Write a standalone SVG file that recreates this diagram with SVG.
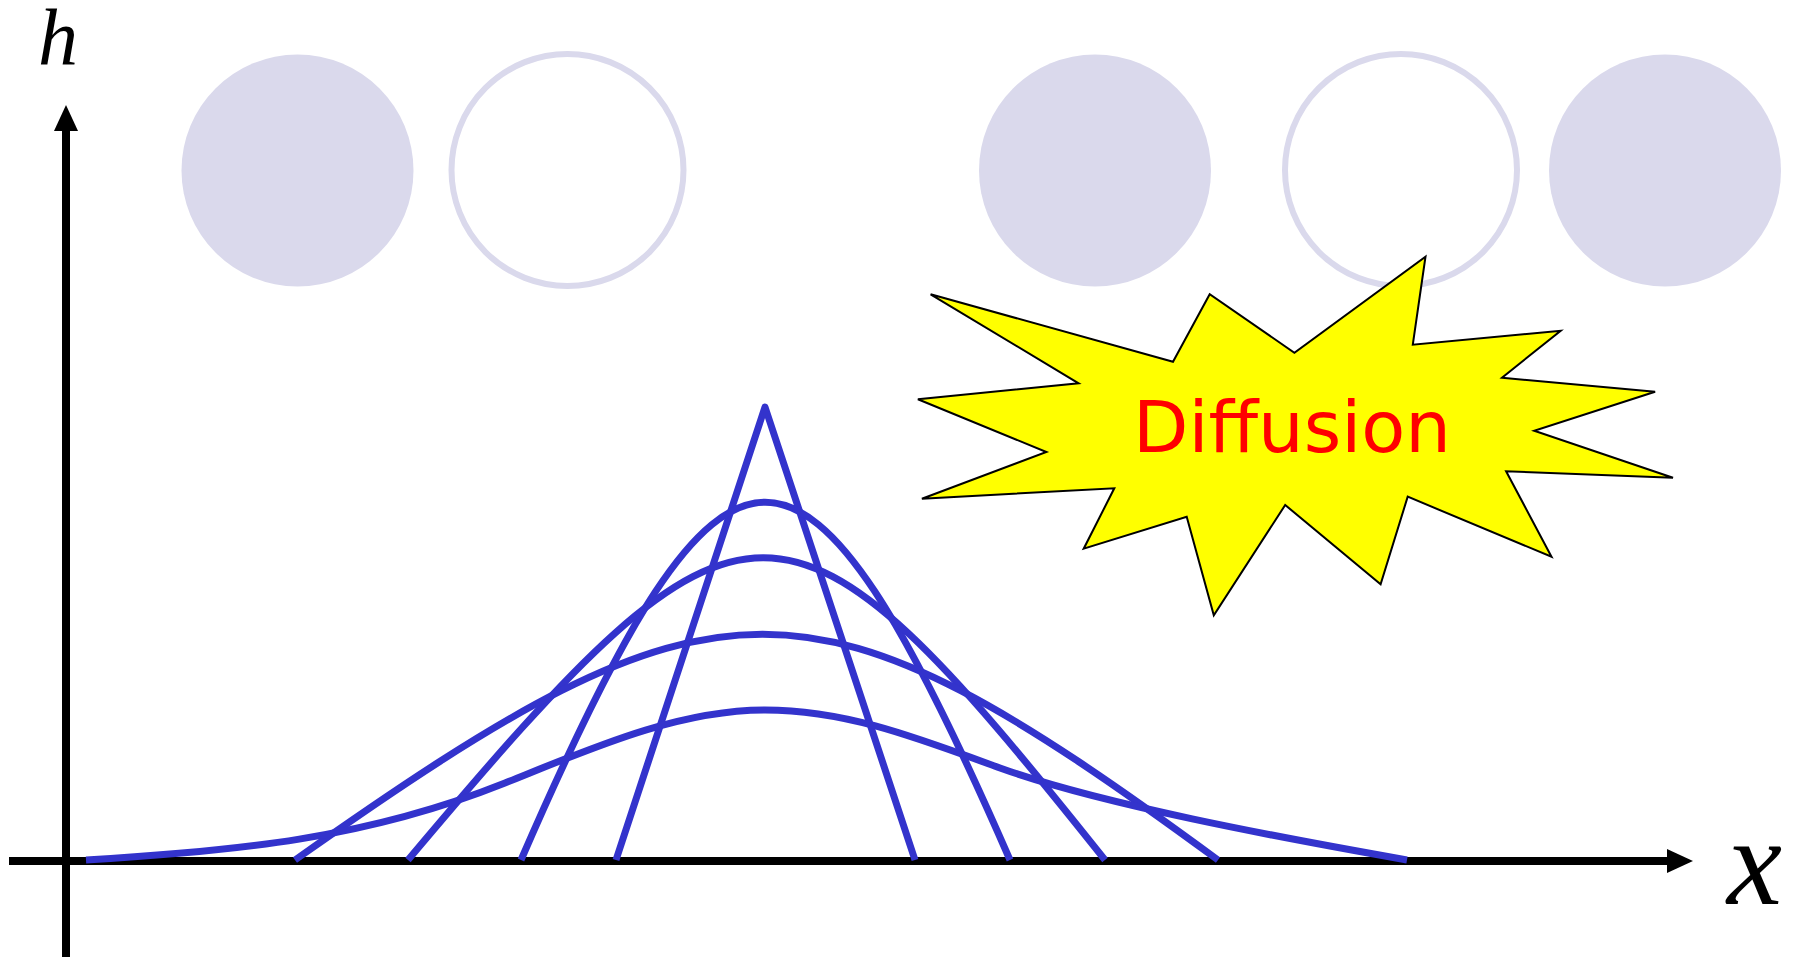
<svg xmlns="http://www.w3.org/2000/svg" width="1798" height="957" viewBox="0 0 1798 957">
<style>
.ax{stroke:#000;stroke-width:8;fill:none}
.ah{fill:#000}
.full{fill:#DAD9EC}
.ring{fill:#fff;stroke:#DAD9EC;stroke-width:6}
.cv{fill:none;stroke:#3333CC;stroke-width:7;stroke-linejoin:round;stroke-linecap:butt}
.lbl{font-family:"Liberation Serif","Times New Roman",serif;font-style:italic;fill:#000}
</style>
<rect width="1798" height="957" fill="#fff"/>
<g id="particles">
<circle class="full" cx="297.5" cy="170.5" r="116"/>
<circle class="ring" cx="567.5" cy="170" r="116"/>
<circle class="full" cx="1095" cy="170.5" r="116"/>
<circle class="ring" cx="1401" cy="170" r="116"/>
<circle class="full" cx="1665" cy="170.5" r="116"/>
</g>
<g id="axes">
<line class="ax" x1="66" y1="126" x2="66" y2="957"/>
<polygon class="ah" points="66,105 54,131 78,131"/>
<line class="ax" x1="9" y1="861" x2="1670" y2="861"/>
<polygon class="ah" points="1693,861 1667,849 1667,873"/>
</g>
<g id="curves">
<polyline class="cv" points="616,860 765,407 915,860"/>
<path class="cv" d="M521,860 C728,383 802,383 1010,860"/>
<path class="cv" d="M408,860 C747,457 784,457 1105,860"/>
<path class="cv" d="M295,860 C721,559 808,559 1218,860"/>
<path class="cv" d="M86,860 C236,851 365,839 505,783 C592,748 678,710 765,710 C845,710 915,737 1000,768 C1100,804 1277,837 1407,860"/>
</g>
<g id="diffusion-burst">
<polygon fill="#FFFF00" stroke="#000" stroke-width="2" stroke-linejoin="miter" points="930.6,294.3 1173,361.7 1209.7,294.3 1294.4,352.7 1425.5,256.7 1412.8,344.7 1560.7,330.7 1502,377.7 1655.1,391.7 1534.2,430.7 1673,477.7 1506.1,471.3 1551.5,556.7 1407.7,496.7 1380.6,584.3 1285.2,505 1213.8,615.3 1186.7,516.7 1083.7,548.7 1114.3,488.3 921.9,498.7 1046.4,452 917.9,399.3 1078.6,383.3"/>
<text x="1292" y="452" text-anchor="middle" font-family="DejaVu Sans, sans-serif" font-size="72" fill="#FF0000">Diffusion</text>
</g>
<g id="labels">
<text class="lbl" x="38" y="64" font-size="80">h</text>
<text class="lbl" x="1727" y="904" font-size="124">x</text>
</g>
</svg>
